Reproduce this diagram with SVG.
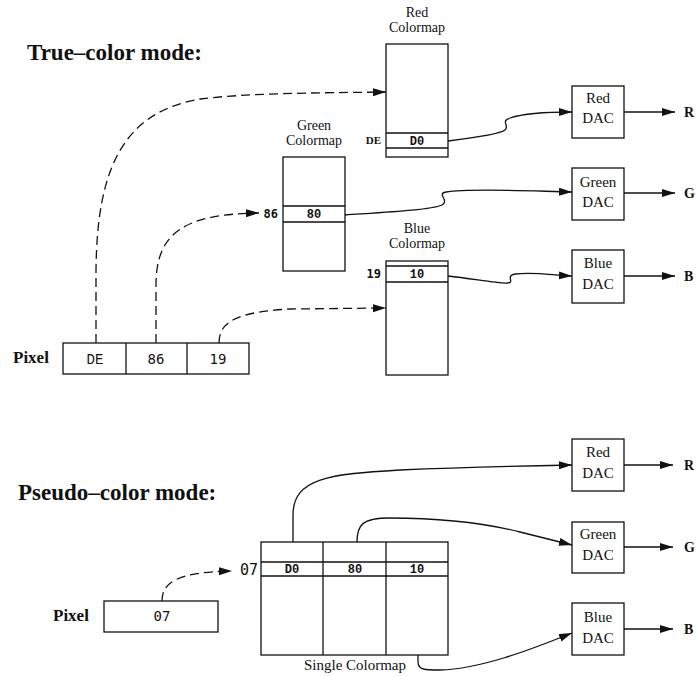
<svg xmlns="http://www.w3.org/2000/svg" width="696" height="677" viewBox="0 0 696 677">
<defs>
<marker id="ah" markerUnits="userSpaceOnUse" markerWidth="14" markerHeight="10" refX="13" refY="4" orient="auto">
<path d="M0,0 L13,4 L0,8 z" fill="#111"/>
</marker>
<style>
rect{fill:#fff;stroke:#111;stroke-width:1.3}
line.d{stroke:#111;stroke-width:1.3}
.conn path{fill:none;stroke:#111;stroke-width:1.3}
.conn path.dash{stroke-dasharray:9 5}
.title{font-family:"Liberation Serif",serif;font-weight:bold;font-size:23px;fill:#111}
.lbl{font-family:"Liberation Serif",serif;font-size:15px;fill:#111;text-anchor:middle}
.cm{font-family:"Liberation Serif",serif;font-size:14px;fill:#111;text-anchor:middle}
.pix{font-family:"Liberation Serif",serif;font-weight:bold;font-size:17px;fill:#111}
.mono{font-family:"DejaVu Sans Mono",monospace;font-size:14px;fill:#111;text-anchor:middle}
.cour{font-family:"Liberation Mono",monospace;font-size:14px;fill:#111;text-anchor:middle}
.ent{font-family:"Liberation Mono",monospace;font-weight:bold;font-size:12px;fill:#111;text-anchor:middle}
.side{font-family:"DejaVu Sans Mono",monospace;font-weight:bold;font-size:12px;fill:#111;text-anchor:end}
.out{font-family:"Liberation Serif",serif;font-weight:bold;font-size:14px;fill:#111}
</style>
</defs>
<rect x="0" y="0" width="696" height="677" style="fill:#fff;stroke:none"/>

<text class="title" x="27" y="60">True–color mode:</text>
<text class="title" x="18" y="500">Pseudo–color mode:</text>

<g id="pixel-true">
<text class="pix" x="13" y="363">Pixel</text>
<rect x="63" y="343" width="186" height="31"/>
<line class="d" x1="126" y1="343" x2="126" y2="374"/>
<line class="d" x1="187" y1="343" x2="187" y2="374"/>
<text class="cour" x="95" y="364">DE</text>
<text class="mono" x="156" y="364">86</text>
<text class="mono" x="218" y="364">19</text>
</g>

<g id="red-colormap">
<text class="cm" x="417" y="17">Red</text>
<text class="cm" x="417" y="32">Colormap</text>
<rect x="386" y="44" width="62" height="113"/>
<line class="d" x1="386" y1="133" x2="448" y2="133"/>
<line class="d" x1="386" y1="148" x2="448" y2="148"/>
<text class="ent" x="417" y="145">D0</text>
<text class="side" x="381" y="144" style="font-family:'Liberation Serif',serif;font-size:11px">DE</text>
</g>

<g id="green-colormap">
<text class="cm" x="314" y="130">Green</text>
<text class="cm" x="314" y="145">Colormap</text>
<rect x="283" y="157" width="62" height="114"/>
<line class="d" x1="283" y1="206" x2="345" y2="206"/>
<line class="d" x1="283" y1="222" x2="345" y2="222"/>
<text class="ent" x="314" y="218">80</text>
<text class="side" x="278" y="218">86</text>
</g>

<g id="blue-colormap">
<text class="cm" x="417" y="233">Blue</text>
<text class="cm" x="417" y="248">Colormap</text>
<rect x="386" y="261" width="62" height="114"/>
<line class="d" x1="386" y1="266" x2="448" y2="266"/>
<line class="d" x1="386" y1="282" x2="448" y2="282"/>
<text class="ent" x="417" y="278">10</text>
<text class="side" x="381" y="278">19</text>
</g>

<g id="red-dac-1">
<rect x="572" y="86" width="52" height="52"/>
<text class="lbl" x="598" y="103">Red</text>
<text class="lbl" x="598" y="123">DAC</text>
<text class="out" x="684" y="117">R</text>
</g>
<g id="green-dac-1">
<rect x="572" y="168" width="52" height="52"/>
<text class="lbl" x="598" y="187">Green</text>
<text class="lbl" x="598" y="207">DAC</text>
<text class="out" x="684" y="198">G</text>
</g>
<g id="blue-dac-1">
<rect x="572" y="250" width="52" height="53"/>
<text class="lbl" x="598" y="268">Blue</text>
<text class="lbl" x="598" y="289">DAC</text>
<text class="out" x="684" y="281">B</text>
</g>

<g id="pixel-pseudo">
<text class="pix" x="53" y="621">Pixel</text>
<rect x="104" y="601" width="114" height="31"/>
<text class="mono" x="162" y="621">07</text>
</g>

<g id="single-colormap">
<rect x="261" y="542" width="187" height="113"/>
<line class="d" x1="261" y1="562" x2="448" y2="562"/>
<line class="d" x1="261" y1="576" x2="448" y2="576"/>
<line class="d" x1="323" y1="542" x2="323" y2="655"/>
<line class="d" x1="386" y1="542" x2="386" y2="655"/>
<text class="ent" x="292" y="573">D0</text>
<text class="ent" x="355" y="573">80</text>
<text class="ent" x="417" y="573">10</text>
<text class="mono" x="258" y="575" style="text-anchor:end;font-size:15px">07</text>
<text class="lbl" x="355" y="670">Single Colormap</text>
</g>

<g id="red-dac-2">
<rect x="572" y="439" width="52" height="52"/>
<text class="lbl" x="598" y="457">Red</text>
<text class="lbl" x="598" y="478">DAC</text>
<text class="out" x="684" y="470">R</text>
</g>
<g id="green-dac-2">
<rect x="572" y="522" width="52" height="51"/>
<text class="lbl" x="598" y="539">Green</text>
<text class="lbl" x="598" y="560">DAC</text>
<text class="out" x="684" y="552">G</text>
</g>
<g id="blue-dac-2">
<rect x="572" y="603" width="52" height="52"/>
<text class="lbl" x="598" y="622">Blue</text>
<text class="lbl" x="598" y="643">DAC</text>
<text class="out" x="684" y="634">B</text>
</g>

<g id="connectors" class="conn">
<path class="dash" d="M96,343 L96,270 C97,165 125,112 200,99 C250,93 310,93 386,92" marker-end="url(#ah)"/>
<path class="dash" d="M156,343 L156,285 C156,232 185,214 259,213" marker-end="url(#ah)"/>
<path class="dash" d="M219,343 C219,322 236,312 290,309 L386,308" marker-end="url(#ah)"/>
<path d="M448,141 C480,137 500,134 505,130 C510,126 500,121 510,118 C525,113 545,112 572,112" marker-end="url(#ah)"/>
<path d="M345,215 C390,212 430,210 442,205 C450,200 436,194 446,192 C470,188 530,191 572,192" marker-end="url(#ah)"/>
<path d="M448,276 C475,279 500,284 508,283 C515,282 505,276 515,274 C535,272 550,275 572,276" marker-end="url(#ah)"/>
<path d="M624,112 L675,112" marker-end="url(#ah)"/>
<path d="M624,193 L675,193" marker-end="url(#ah)"/>
<path d="M624,276 L675,276" marker-end="url(#ah)"/>
<path class="dash" d="M162,601 C162,583 176,572 232,571" marker-end="url(#ah)"/>
<path d="M293,542 L293,515 C293,478 330,474 400,470 C470,467 520,466 572,465" marker-end="url(#ah)"/>
<path d="M357,542 C357,525 362,518 390,518 C430,518 480,522 520,532 L572,545" marker-end="url(#ah)"/>
<path d="M418,655 L418,662 C418,670 425,670 440,670 C480,669 530,650 572,633" marker-end="url(#ah)"/>
<path d="M624,465 L673,465" marker-end="url(#ah)"/>
<path d="M624,547 L673,547" marker-end="url(#ah)"/>
<path d="M624,629 L673,629" marker-end="url(#ah)"/>
</g>
</svg>
